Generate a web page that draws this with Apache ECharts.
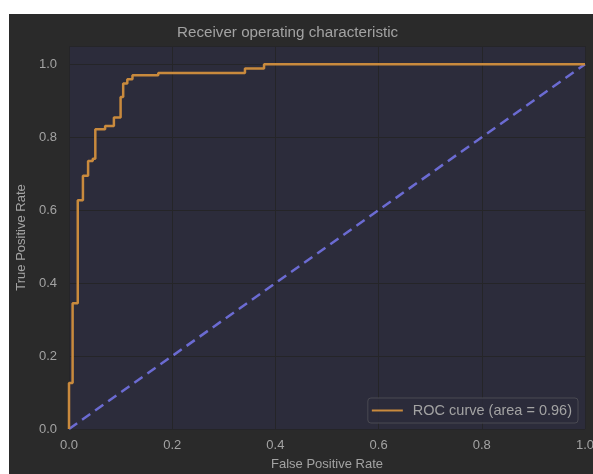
<!DOCTYPE html>
<html>
<head>
<meta charset="utf-8">
<script src="https://cdn.jsdelivr.net/npm/echarts@6/dist/echarts.min.js"></script>
<style>
  html, body { margin: 0; padding: 0; background: #ffffff; }
  #chart { position: absolute; left: 9px; top: 14px; width: 584px; height: 460px; }
</style>
</head>
<body>
<div id="chart"></div>
<script>
// ROC curve vertices (false positive rate, true positive rate)
const fpr = [0, 0, 0.007, 0.007, 0.017, 0.017, 0.027, 0.027, 0.037, 0.037, 0.046, 0.046,
  0.051, 0.051, 0.070, 0.070, 0.087, 0.087, 0.100, 0.100, 0.105, 0.105, 0.113, 0.113,
  0.123, 0.123, 0.173, 0.173, 0.341, 0.341, 0.378, 0.378, 1.0];
const tpr = [0, 0.126, 0.126, 0.345, 0.345, 0.627, 0.627, 0.694, 0.694, 0.735, 0.735, 0.741,
  0.741, 0.822, 0.822, 0.831, 0.831, 0.854, 0.854, 0.910, 0.910, 0.947, 0.947, 0.959,
  0.959, 0.970, 0.970, 0.976, 0.976, 0.988, 0.988, 1.0, 1.0];
// chance diagonal
const chanceX = [0, 1];
const chanceY = [0, 1];
const rocAuc = 0.96;
const tickValues = [0, 0.2, 0.4, 0.6, 0.8, 1.0];

const textColor = '#a3a3a3';
const gridColor = '#252528';
const fontFamily = '"Liberation Sans", Arial, sans-serif';

const chart = echarts.init(document.getElementById('chart'), null, { renderer: 'canvas' });

const axisCommon = {
  type: 'value',
  min: 0,
  interval: 0.2,
  axisLine: { show: false },
  axisTick: { show: false },
  splitLine: { show: true, lineStyle: { color: gridColor, width: 1 } },
  axisLabel: {
    color: textColor,
    fontSize: 13,
    fontFamily: fontFamily,
    formatter: v => tickValues.some(t => Math.abs(t - v) < 1e-9) ? v.toFixed(1) : ''
  },
  nameLocation: 'middle',
  nameTextStyle: { color: textColor, fontSize: 13, fontFamily: fontFamily }
};

chart.setOption({
  backgroundColor: '#2a2a2a',
  animation: false,
  title: {
    text: 'Receiver operating characteristic',
    left: 168,
    top: 11,
    padding: 0,
    textStyle: { color: textColor, fontSize: 15.2, fontWeight: 'normal', fontFamily: fontFamily }
  },
  grid: {
    left: 60, right: 8, top: 32, bottom: 45,
    outerBoundsMode: 'none',
    containLabel: false,
    show: true, backgroundColor: '#2c2c3b', borderWidth: 0
  },
  xAxis: Object.assign({}, axisCommon, {
    max: 1.0,
    name: 'False Positive Rate',
    nameGap: 29,
    axisLabel: Object.assign({}, axisCommon.axisLabel, { margin: 10 })
  }),
  yAxis: Object.assign({}, axisCommon, {
    max: 1.05,
    name: 'True Positive Rate',
    nameGap: 41,
    axisLabel: Object.assign({}, axisCommon.axisLabel, { margin: 12 })
  }),
  legend: {
    right: 15,
    bottom: 51,
    orient: 'vertical',
    padding: [5, 6, 5, 4],
    backgroundColor: 'rgba(44,44,59,0.8)',
    borderColor: '#4a4a52',
    borderWidth: 1,
    borderRadius: 3,
    itemWidth: 31,
    itemHeight: 14,
    data: [{ name: 'ROC curve (area = ' + rocAuc.toFixed(2) + ')', icon: 'path://M0,6 L31,6 L31,8 L0,8 Z' }],
    textStyle: { color: textColor, fontSize: 14.5, fontFamily: fontFamily, padding: [0, 0, 0, 5] }
  },
  series: [
    {
      name: 'ROC curve (area = ' + rocAuc.toFixed(2) + ')',
      type: 'line',
      data: fpr.map((x, i) => [x, tpr[i]]),
      showSymbol: false,
      symbol: 'none',
      itemStyle: { color: '#c98a3d' },
      lineStyle: { color: '#c98a3d', width: 2.5 },
      z: 3
    },
    {
      name: 'chance',
      type: 'line',
      data: chanceX.map((x, i) => [x, chanceY[i]]),
      showSymbol: false,
      symbol: 'none',
      lineStyle: { color: '#6b6bd2', width: 2.5, type: [10, 6] },
      z: 2
    }
  ]
});
</script>
</body>
</html>
